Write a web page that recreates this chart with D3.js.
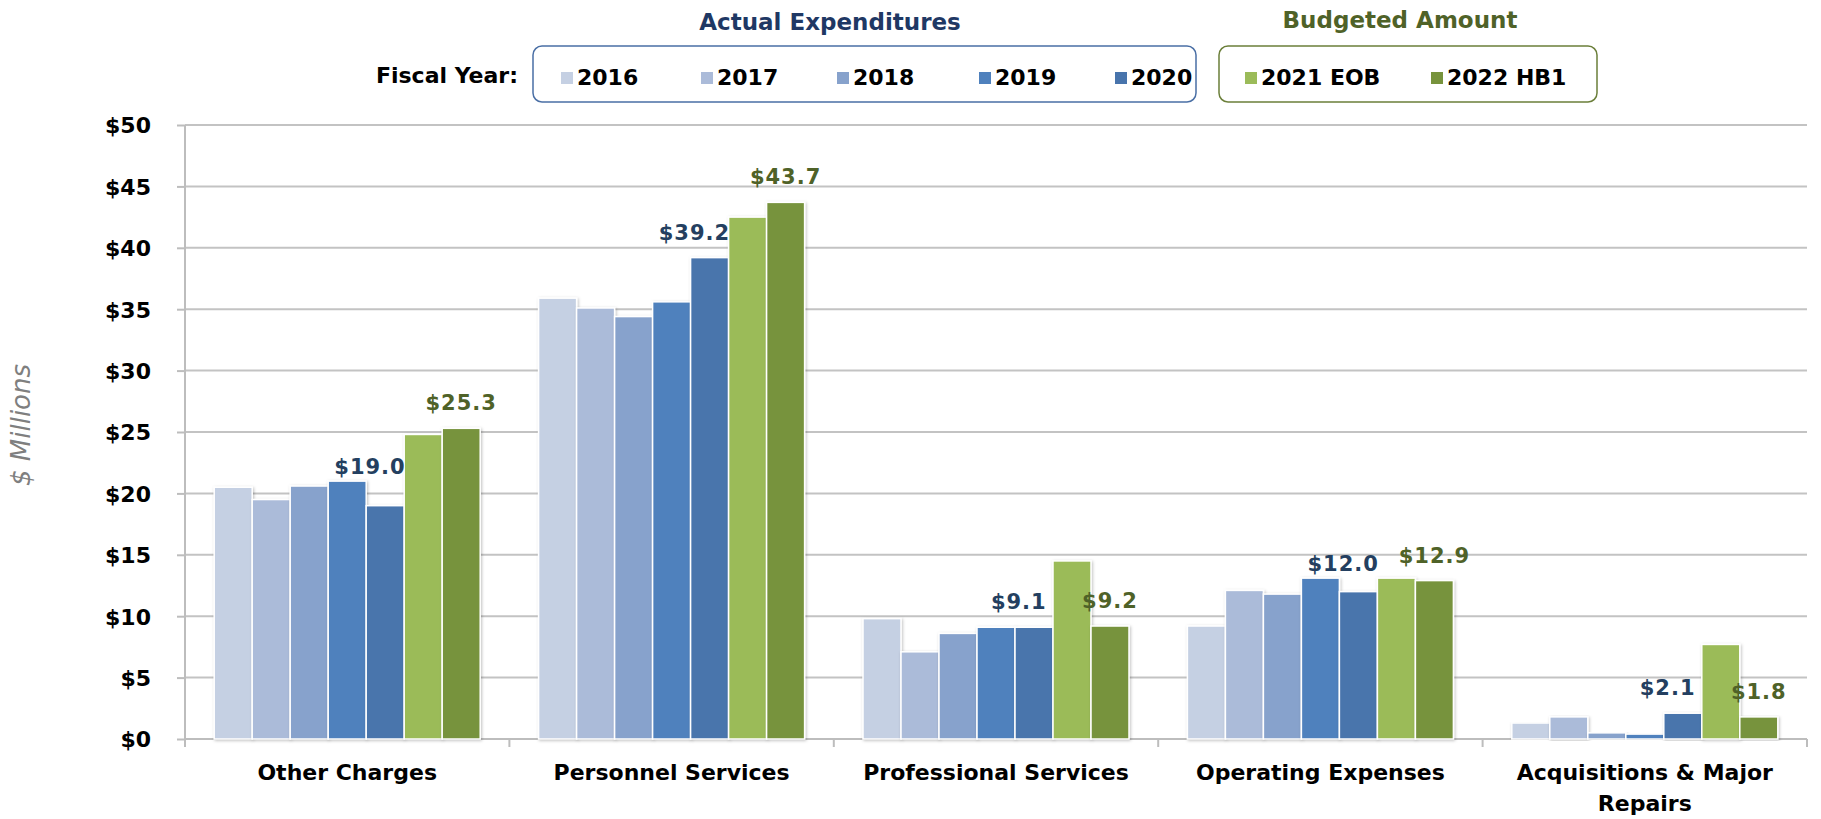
<!DOCTYPE html>
<html>
<head>
<meta charset="utf-8">
<script src="https://cdn.jsdelivr.net/npm/d3@7"></script>
<style>
  body { margin: 0; background: #fff; }
  text { font-family: "DejaVu Sans", Verdana, sans-serif; }
</style>
</head>
<body>
<svg id="chart"></svg>
<script>

var width = 1821;
var height = 819;

// data
var categories = ["Other Charges", "Personnel Services", "Professional Services", "Operating Expenses", "Acquisitions & Major Repairs"];
var years = ["2016", "2017", "2018", "2019", "2020", "2021 EOB", "2022 HB1"];
var colors = ["#c5d0e3", "#abbbd9", "#87a2cc", "#4f81bd", "#4874ac", "#9bbb59", "#77933c"];
var v2016 = [20.5, 35.9, 9.8, 9.2, 1.3];
var v2017 = [19.5, 35.1, 7.1, 12.1, 1.8];
var v2018 = [20.6, 34.4, 8.6, 11.8, 0.5];
var v2019 = [21.0, 35.6, 9.1, 13.1, 0.4];
var v2020 = [19.0, 39.2, 9.1, 12.0, 2.1];
var v2021 = [24.8, 42.5, 14.5, 13.1, 7.7];
var v2022 = [25.3, 43.7, 9.2, 12.9, 1.8];
var yTicks = [0, 5, 10, 15, 20, 25, 30, 35, 40, 45, 50];

var series = [v2016, v2017, v2018, v2019, v2020, v2021, v2022];

var svg = d3.select("#chart")
    .attr("width", width)
    .attr("height", height);

var defs = svg.append("defs");
var shadow = defs.append("filter").attr("id", "shadow")
    .attr("x", "-20%").attr("y", "-5%").attr("width", "140%").attr("height", "110%");
shadow.append("feDropShadow")
    .attr("dx", 1).attr("dy", 1).attr("stdDeviation", 1.5)
    .attr("flood-color", "#000").attr("flood-opacity", 0.25);

var x0 = d3.scaleBand()
    .domain(categories)
    .range([185, 1807]);

var groupW = 266;
var x1 = d3.scaleBand()
    .domain(years)
    .range([0, groupW]);

var y = d3.scaleLinear()
    .domain([0, 50])
    .range([739, 125]);

// gridlines
svg.append("g")
  .selectAll("line")
  .data(yTicks.slice(1))
  .enter()
  .append("line")
    .attr("x1", 185)
    .attr("x2", 1807)
    .attr("y1", function (d) { return y(d); })
    .attr("y2", function (d) { return y(d); })
    .style("stroke", "#c3c3c3")
    .style("stroke-width", 2);

// y axis
var yAxis = svg.append("g")
    .attr("transform", "translate(185,0)")
    .call(d3.axisLeft(y).tickValues(yTicks).tickSize(8).tickPadding(26)
      .tickFormat(function (d) { return "$" + d; }));
yAxis.select(".domain").remove();
yAxis.selectAll(".tick line").style("stroke", "#bdbdbd").style("stroke-width", 2);
yAxis.selectAll("text")
    .style("font-size", "22px")
    .style("font-weight", "bold")
    .style("fill", "#000")
    .attr("dy", "0.36em");
svg.append("line")
    .attr("x1", 185).attr("x2", 185)
    .attr("y1", y(50)).attr("y2", 747)
    .style("stroke", "#bdbdbd").style("stroke-width", 2);

// x axis
var xAxis = svg.append("g")
    .attr("transform", "translate(0," + y(0) + ")");
xAxis.append("line")
    .attr("x1", 185).attr("x2", 1807)
    .style("stroke", "#bdbdbd").style("stroke-width", 2);
xAxis.selectAll(".sep")
  .data(categories)
  .enter()
  .append("line")
    .attr("x1", function (d) { return x0(d) + x0.bandwidth(); })
    .attr("x2", function (d) { return x0(d) + x0.bandwidth(); })
    .attr("y1", 0).attr("y2", 8)
    .style("stroke", "#bdbdbd").style("stroke-width", 2);

var labelLines = [["Other Charges"], ["Personnel Services"], ["Professional Services"], ["Operating Expenses"], ["Acquisitions & Major", "Repairs"]];
xAxis.selectAll(".xl")
  .data(categories)
  .enter()
  .append("text")
    .attr("x", function (d) { return x0(d) + x0.bandwidth() / 2; })
    .attr("y", 41)
    .attr("text-anchor", "middle")
    .style("font-size", "22px")
    .style("font-weight", "bold")
    .style("fill", "#000")
  .each(function (d, i) {
    var t = d3.select(this);
    labelLines[i].forEach(function (s, k) {
      t.append("tspan")
        .attr("x", x0(d) + x0.bandwidth() / 2)
        .attr("dy", k === 0 ? 0 : 31)
        .text(s);
    });
  });

// bars
var off = (x0.bandwidth() - groupW) / 2;
var groups = svg.append("g")
  .selectAll("g")
  .data(categories)
  .enter()
  .append("g")
    .attr("transform", function (d) { return "translate(" + (x0(d) + off) + ",0)"; });

groups.selectAll("rect")
  .data(function (d, i) {
    return years.map(function (yr, k) { return { year: yr, k: k, value: series[k][i] }; });
  })
  .enter()
  .append("rect")
    .attr("x", function (d) { return x1(d.year); })
    .attr("y", function (d) { return y(d.value); })
    .attr("width", x1.bandwidth())
    .attr("height", function (d) { return y(0) - y(d.value); })
    .style("fill", function (d) { return colors[d.k]; })
    .style("stroke", "#fff")
    .style("stroke-width", 1.5)
    .attr("filter", "url(#shadow)");

// value labels (2020 and 2022 HB1)
groups.append("text")
    .attr("x", function (d) { return x1("2020") + x1.bandwidth() * 0.1; })
    .attr("y", function (d, i) { return Math.min(y(v2020[i]) - 18, y(v2019[i]) - 7); })
    .attr("text-anchor", "middle")
    .style("font-size", "21px")
    .style("font-weight", "bold")
    .style("letter-spacing", "1px")
    .style("fill", "#243f60")
    .text(function (d, i) { return "$" + v2020[i].toFixed(1); });

groups.append("text")
    .attr("x", function (d) { return x1("2022 HB1") + x1.bandwidth() / 2; })
    .attr("y", function (d, i) { return y(v2022[i]) - 18; })
    .attr("text-anchor", "middle")
    .style("font-size", "21px")
    .style("font-weight", "bold")
    .style("letter-spacing", "1px")
    .style("fill", "#4f6228")
    .text(function (d, i) { return "$" + v2022[i].toFixed(1); });

// y title
svg.append("text")
    .attr("transform", "translate(30,425) rotate(-90)")
    .attr("text-anchor", "middle")
    .style("font-size", "26px")
    .style("font-style", "italic")
    .style("fill", "#7f7f7f")
    .text("$ Millions");

// legend
svg.append("text")
    .attr("x", 830).attr("y", 30)
    .attr("text-anchor", "middle")
    .style("font-size", "23px")
    .style("font-weight", "bold")
    .style("fill", "#1f3864")
    .text("Actual Expenditures");

svg.append("text")
    .attr("x", 1400).attr("y", 28)
    .attr("text-anchor", "middle")
    .style("font-size", "23px")
    .style("font-weight", "bold")
    .style("fill", "#4f6228")
    .text("Budgeted Amount");

svg.append("text")
    .attr("x", 518).attr("y", 83)
    .attr("text-anchor", "end")
    .style("font-size", "22px")
    .style("font-weight", "bold")
    .style("fill", "#000")
    .text("Fiscal Year:");

svg.append("rect")
    .attr("x", 533).attr("y", 46).attr("width", 663).attr("height", 56)
    .attr("rx", 9)
    .style("fill", "none").style("stroke", "#4a6fa5").style("stroke-width", 1.5);
svg.append("rect")
    .attr("x", 1219).attr("y", 46).attr("width", 378).attr("height", 56)
    .attr("rx", 9)
    .style("fill", "none").style("stroke", "#6b7f3a").style("stroke-width", 1.5);

var legendX = [561, 701, 837, 979, 1115, 1245, 1431];
var legend = svg.append("g")
  .selectAll("g")
  .data(years)
  .enter()
  .append("g")
    .attr("transform", function (d, i) { return "translate(" + legendX[i] + ",72)"; });
legend.append("rect")
    .attr("x", 0).attr("y", 0)
    .attr("width", 12).attr("height", 12)
    .style("fill", function (d, i) { return colors[i]; });
legend.append("text")
    .attr("x", 16).attr("y", 13)
    .style("font-size", "22px")
    .style("font-weight", "bold")
    .style("fill", "#000")
    .text(function (d) { return d; });

</script>
</body>
</html>
